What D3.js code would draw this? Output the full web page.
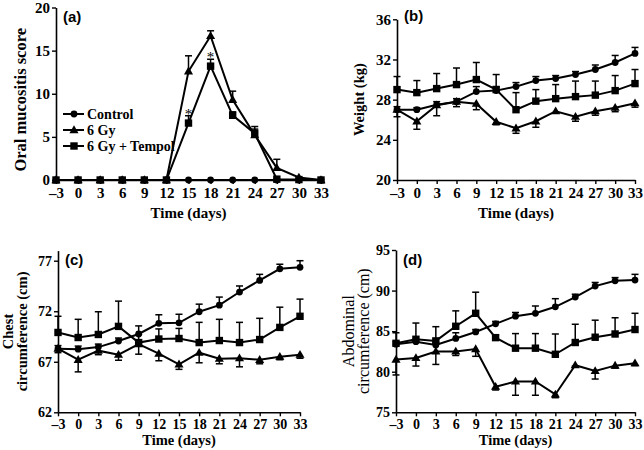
<!DOCTYPE html>
<html>
<head>
<meta charset="utf-8">
<script src="https://cdn.jsdelivr.net/npm/d3@7"></script>
<style>
  body { margin: 0; background: #fff; }
  svg { display: block; }
</style>
</head>
<body>
<svg width="644" height="450"></svg>
<script>
const days = [-3, 0, 3, 6, 9, 12, 15, 18, 21, 24, 27, 30, 33];
const seriesNames = ["Control", "6 Gy", "6 Gy + Tempol"];

// (a) oral mucositis score
const mucControl = [0, 0, 0, 0, 0, 0, 0, 0, 0, 0, 0, 0, 0];
const mucControlErr = [0, 0, 0, 0, 0, 0, 0, 0, 0, 0, 0, 0, 0];
const mucGy = [0, 0, 0, 0, 0, 0, 12.6, 16.7, 9.3, 5.2, 1.4, 0.3, 0];
const mucGyErr = [0, 0, 0, 0, 0, 0, 1.8, 0.6, 1.0, 1.0, 1.0, 0, 0];
const mucTempol = [0, 0, 0, 0, 0, 0, 6.6, 13.2, 7.5, 5.4, 0.1, 0.05, 0];
const mucTempolErr = [0, 0, 0, 0, 0, 0, 0.85, 0.8, 0.4, 0.5, 0, 0, 0];
const mucStarDays = [15, 18];

// (b) weight
const wtControl = [27.0, 27.0, 27.5, 27.8, 28.8, 28.9, 29.3, 29.9, 30.1, 30.5, 31.0, 31.7, 32.6];
const wtControlErr = [0.3, 0.2, 0.3, 0.3, 0.5, 0.4, 0.4, 0.4, 0.3, 0.3, 0.45, 0.7, 0.6];
const wtGy = [27.0, 25.85, 27.45, 27.8, 27.6, 25.8, 25.15, 25.85, 26.85, 26.3, 26.85, 27.2, 27.65];
const wtGyErr = [0.7, 0.8, 1.05, 0.5, 0.6, 0.3, 0.5, 0.6, 0.15, 0.45, 0.4, 0.4, 0.4];
const wtTempol = [29.0, 28.7, 29.1, 29.5, 30.0, 29.0, 27.0, 27.85, 28.1, 28.3, 28.45, 28.9, 29.6];
const wtTempolErr = [1.3, 1.2, 1.5, 1.65, 1.7, 1.5, 1.7, 1.15, 1.4, 1.55, 1.4, 1.5, 1.4];

// (c) chest circumference
const chestControl = [68.3, 68.25, 68.45, 69.05, 69.75, 70.8, 70.85, 71.95, 72.6, 73.9, 75.05, 76.2, 76.35];
const chestControlErr = [0.3, 0.3, 0.3, 0.3, 0.8, 0.85, 0.85, 0.75, 0.8, 0.6, 0.6, 0.45, 0.65];
const chestGy = [68.3, 67.2, 68.1, 67.7, 68.75, 67.8, 66.75, 67.9, 67.3, 67.35, 67.2, 67.5, 67.7];
const chestGyErr = [0.4, 1.2, 0.4, 0.55, 1.0, 0.7, 0.5, 1.0, 0.5, 0.85, 0.4, 0.3, 0.35];
const chestTempol = [69.9, 69.4, 69.7, 70.5, 68.9, 69.25, 69.3, 68.9, 69.1, 68.9, 69.2, 70.4, 71.5];
const chestTempolErr = [1.6, 1.8, 2.25, 2.5, 0.8, 1.0, 1.0, 2.0, 2.1, 2.0, 2.1, 2.0, 1.7];

// (d) abdominal circumference
const abdControl = [83.4, 83.7, 83.3, 84.1, 84.9, 85.9, 86.85, 87.2, 88.0, 89.2, 90.55, 91.2, 91.3];
const abdControlErr = [0.3, 0.3, 0.3, 0.7, 0.3, 0.3, 0.45, 0.9, 1.0, 0.35, 0.45, 0.4, 0.7];
const abdGy = [81.5, 81.7, 82.5, 82.5, 82.8, 78.15, 78.8, 78.8, 77.2, 80.8, 80.1, 80.75, 81.05];
const abdGyErr = [1.9, 1.0, 1.6, 0.5, 0.9, 0.4, 1.7, 1.7, 0.4, 0.1, 1.0, 0.3, 0.3];
const abdTempol = [83.5, 84.0, 83.8, 85.6, 87.2, 84.2, 82.9, 82.9, 82.15, 83.6, 84.25, 84.65, 85.2];
const abdTempolErr = [1.3, 2.0, 1.75, 1.9, 2.6, 0.3, 1.8, 1.8, 2.5, 2.25, 2.1, 2.0, 2.0];

const serif = "'Liberation Serif', 'Times New Roman', serif";
const sans = "'Liberation Sans', Arial, sans-serif";
const shapes = ["circle", "triangle", "square"];

const svg = d3.select("svg");

function marker(g, shape, cx, cy) {
  if (shape === "circle") {
    g.append("circle").attr("cx", cx).attr("cy", cy).attr("r", 3.4).attr("fill", "#000");
  } else if (shape === "square") {
    g.append("rect").attr("x", cx - 3.7).attr("y", cy - 3.7)
      .attr("width", 7.4).attr("height", 7.4).attr("fill", "#000");
  } else {
    g.append("path").attr("d", d3.symbol(d3.symbolTriangle, 36)())
      .attr("transform", `translate(${cx},${cy + 0.5})`).attr("fill", "#000");
  }
}

function drawPanel(p) {
  const x = d3.scaleLinear().domain([-3, 33]).range([p.x0, p.x1]);
  const y = d3.scaleLinear().domain(p.yDomain).range([p.y0, p.y1]);
  const g = svg.append("g");

  // axes
  const yAxis = g.append("g")
    .attr("transform", `translate(${p.x0},0)`)
    .call(d3.axisLeft(y).tickValues(p.yTicks).tickSize(4).tickSizeOuter(0).tickPadding(2));
  const xAxis = g.append("g")
    .attr("transform", `translate(0,${p.y0})`)
    .call(d3.axisBottom(x).tickValues(days).tickSize(4).tickSizeOuter(0).tickPadding(3)
      .tickFormat(d => d < 0 ? "\u2013" + (-d) : d));
  [xAxis, yAxis].forEach(a => {
    a.select(".domain").attr("stroke", "#000").attr("stroke-width", 1.6);
    a.selectAll(".tick line").attr("stroke", "#000").attr("stroke-width", 1.4);
    a.selectAll(".tick text").attr("fill", "#000")
      .style("font-family", serif).style("font-weight", "bold").style("font-size", p.tickSize + "px");
  });

  // x title
  g.append("text")
    .attr("x", (p.x0 + p.x1) / 2).attr("y", p.xTitleY)
    .attr("text-anchor", "middle")
    .style("font-family", serif).style("font-weight", "bold").style("font-size", p.xTitleSize + "px")
    .text("Time (days)");

  // y title (one or two lines)
  const cy = (p.y0 + p.y1) / 2 + p.yTitleShift;
  p.yTitle.forEach((t, i) => {
    g.append("text")
      .attr("transform", `translate(${p.yTitleX[i]},${cy}) rotate(-90)`)
      .attr("text-anchor", "middle")
      .style("font-family", serif).style("font-weight", p.yTitleWeight)
      .style("font-size", p.yTitleSize + "px")
      .text(t);
  });

  // panel label
  g.append("text")
    .attr("x", p.x0 + 7).attr("y", p.labelY)
    .style("font-family", sans).style("font-weight", "bold").style("font-size", "15px")
    .text(p.label);

  const line = d3.line().x((d, i) => x(days[i])).y(d => y(d));
  p.series.forEach(s => {
    g.append("path").datum(s.values)
      .attr("d", line).attr("fill", "none")
      .attr("stroke", "#000").attr("stroke-width", 2);
  });

  p.series.forEach(s => {
    s.values.forEach((v, i) => {
      const e = s.err[i];
      if (!e) return;
      const top = y(v + s.dir * e);
      g.append("line").attr("x1", x(days[i])).attr("x2", x(days[i]))
        .attr("y1", y(v)).attr("y2", top)
        .attr("stroke", "#000").attr("stroke-width", 1.5);
      g.append("line").attr("x1", x(days[i]) - 3.5).attr("x2", x(days[i]) + 3.5)
        .attr("y1", top).attr("y2", top)
        .attr("stroke", "#000").attr("stroke-width", 1.5);
    });
  });

  p.series.forEach(s => {
    s.values.forEach((v, i) => marker(g, s.shape, x(days[i]), y(v)));
  });

  return { g, x, y };
}

// (a)
const pa = drawPanel({
  x0: 56, x1: 321, y0: 180, y1: 7.5, yDomain: [0, 20], yTicks: [0, 5, 10, 15, 20],
  tickSize: 15, xTitleY: 218, xTitleSize: 15,
  yTitle: ["Oral mucositis score"], yTitleX: [26], yTitleShift: 6, yTitleSize: 16.5, yTitleWeight: "bold",
  label: "(a)", labelY: 22,
  series: [
    { values: mucControl, err: mucControlErr, shape: "circle", dir: 1 },
    { values: mucGy, err: mucGyErr, shape: "triangle", dir: 1 },
    { values: mucTempol, err: mucTempolErr, shape: "square", dir: 1 }
  ]
});

// significance stars above the Tempol bars
mucStarDays.forEach(d => {
  const i = days.indexOf(d);
  pa.g.append("text")
    .attr("x", pa.x(d)).attr("y", pa.y(mucTempol[i] + mucTempolErr[i]) + 3)
    .attr("text-anchor", "middle").attr("fill", "#000")
    .style("font-family", serif).style("font-size", "15px")
    .text("*");
});

// legend
seriesNames.forEach((name, i) => {
  const ly = 114 + i * 16;
  pa.g.append("line").attr("x1", 63).attr("x2", 84).attr("y1", ly).attr("y2", ly)
    .attr("stroke", "#000").attr("stroke-width", 2);
  marker(pa.g, shapes[i], 74, ly);
  pa.g.append("text").attr("x", 87).attr("y", ly + 5)
    .style("font-family", serif).style("font-weight", "bold").style("font-size", "14px")
    .text(name);
});

// (b)
drawPanel({
  x0: 397, x1: 635, y0: 180, y1: 19.3, yDomain: [20, 36], yTicks: [20, 24, 28, 32, 36],
  tickSize: 15, xTitleY: 218, xTitleSize: 15,
  yTitle: ["Weight (kg)"], yTitleX: [364], yTitleShift: 0, yTitleSize: 14.5, yTitleWeight: "bold",
  label: "(b)", labelY: 21,
  series: [
    { values: wtControl, err: wtControlErr, shape: "circle", dir: 1 },
    { values: wtGy, err: wtGyErr, shape: "triangle", dir: -1 },
    { values: wtTempol, err: wtTempolErr, shape: "square", dir: 1 }
  ]
});

// (c)
drawPanel({
  x0: 58, x1: 300, y0: 412.3, y1: 250.6, yDomain: [62, 78], yTicks: [62, 67, 72, 77],
  tickSize: 14, xTitleY: 445, xTitleSize: 14.5,
  yTitle: ["Chest", "circumference (cm)"], yTitleX: [13, 27], yTitleShift: 0, yTitleSize: 14.5, yTitleWeight: "bold",
  label: "(c)", labelY: 265,
  series: [
    { values: chestControl, err: chestControlErr, shape: "circle", dir: 1 },
    { values: chestGy, err: chestGyErr, shape: "triangle", dir: -1 },
    { values: chestTempol, err: chestTempolErr, shape: "square", dir: 1 }
  ]
});

// (d)
drawPanel({
  x0: 396, x1: 635, y0: 412.3, y1: 250, yDomain: [75, 95], yTicks: [75, 80, 85, 90, 95],
  tickSize: 14, xTitleY: 445, xTitleSize: 14.5,
  yTitle: ["Abdominal", "circumference (cm)"], yTitleX: [354, 369], yTitleShift: 0, yTitleSize: 16, yTitleWeight: "normal",
  label: "(d)", labelY: 265,
  series: [
    { values: abdControl, err: abdControlErr, shape: "circle", dir: 1 },
    { values: abdGy, err: abdGyErr, shape: "triangle", dir: -1 },
    { values: abdTempol, err: abdTempolErr, shape: "square", dir: 1 }
  ]
});
</script>
</body>
</html>
